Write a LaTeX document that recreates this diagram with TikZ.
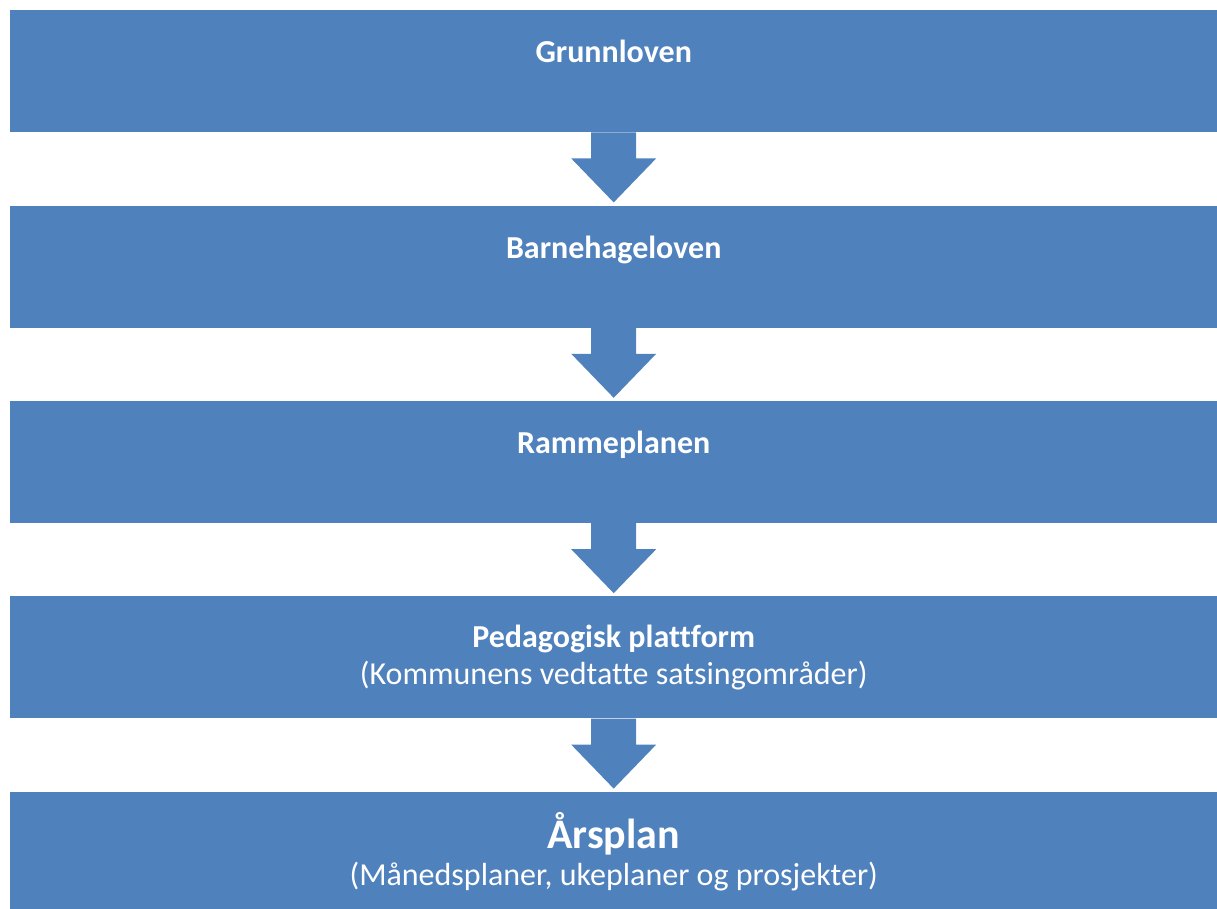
\documentclass[tikz,border=0pt]{standalone}
\usepackage{fontspec}
\setmainfont{Carlito}[Ligatures=NoCommon]
\usepackage{tikz}
\usetikzlibrary{positioning}
\definecolor{planblaa}{HTML}{4F81BD}

\begin{document}
\begin{tikzpicture}[x=1pt, y=1pt, node distance=73pt,
    blokk/.style={fill=planblaa, minimum width=1207pt, minimum height=122pt, inner sep=0pt},
    tittel/.style={text=white, font=\fontsize{32}{37}\selectfont, align=center, inner sep=0pt},
    blokkpil/.style={fill=planblaa, to path={([xshift=-22.5pt]\tikztostart.south) -- ([xshift=-22.5pt,yshift=-26pt]\tikztostart.south) -- ([xshift=-42.5pt,yshift=-26pt]\tikztostart.south) -- ([yshift=3pt]\tikztotarget.north) -- ([xshift=42.5pt,yshift=-26pt]\tikztostart.south) -- ([xshift=22.5pt,yshift=-26pt]\tikztostart.south) -- ([xshift=22.5pt]\tikztostart.south) -- cycle}}]
  \useasboundingbox (0,0) rectangle (1217,-909);

  \node[blokk, anchor=north west] (grunnlov) at (10,-10) {};
  \node[blokk, below=of grunnlov] (barnehagelov) {};
  \node[blokk, below=of barnehagelov] (rammeplan) {};
  \node[blokk, below=of rammeplan] (plattform) {};
  \node[blokk, below=of plattform] (aarsplan) {};

  \node[tittel, below=30pt of grunnlov.north] (grunnlov-tekst) {\textbf{Grunnloven}};
  \node[tittel, below=30pt of barnehagelov.north] (barnehagelov-tekst) {\textbf{Barnehageloven}};
  \node[tittel, below=30pt of rammeplan.north] (rammeplan-tekst) {\textbf{Rammeplanen}};
  \node[tittel, below=29pt of plattform.north] (plattform-tekst) {\textbf{Pedagogisk plattform}\\(Kommunens vedtatte satsingområder)};
  \node[tittel, below=21pt of aarsplan.north] (aarsplan-tekst) {{\fontsize{42}{44}\selectfont\textbf{Årsplan}}\\(Månedsplaner, ukeplaner og prosjekter)};

  \path[blokkpil] (grunnlov) to (barnehagelov);
  \path[blokkpil] (barnehagelov) to (rammeplan);
  \path[blokkpil] (rammeplan) to (plattform);
  \path[blokkpil] (plattform) to (aarsplan);
\end{tikzpicture}
\end{document}
